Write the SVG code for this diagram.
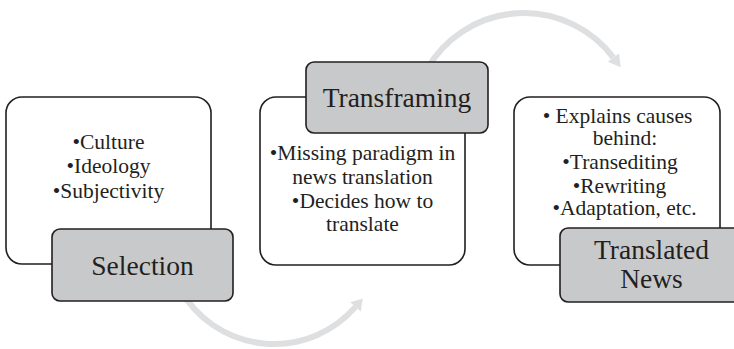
<svg xmlns="http://www.w3.org/2000/svg" width="734" height="349" viewBox="0 0 734 349">
  <style>
    .panel { fill: #ffffff; stroke: #231f20; stroke-width: 1.6; }
    .tab { fill: #c8c9cb; stroke: #231f20; stroke-width: 1.6; }
    text { font-family: 'Liberation Serif', 'DejaVu Serif', serif; fill: #231f20; text-anchor: middle; }
    .body { font-size: 21.5px; }
    .head { font-size: 27.5px; }
    .arc { fill: none; stroke: #dedfe1; stroke-width: 6; }
    .head-tip { fill: #dedfe1; }
  </style>

  <!-- curved flow arrows -->
  <g id="connectors">
    <path class="arc" d="M427,69 A112,112 0 0 1 613.4,57.6"/>
    <polygon class="head-tip" points="620.7,67.2 619.0,53.4 607.8,61.8"/>
    <path class="arc" d="M180.5,290 A108,108 0 0 0 355.5,306.9"/>
    <polygon class="head-tip" points="362.7,298.6 360.8,311.5 350.2,302.3"/>
  </g>

  <!-- Selection -->
  <g id="selection">
    <rect class="panel" x="6" y="97" width="205" height="167" rx="16"/>
    <text class="body" x="108.5" y="149">•Culture</text>
    <text class="body" x="108.5" y="173">•Ideology</text>
    <text class="body" x="108.5" y="198">•Subjectivity</text>
    <rect class="tab" x="52" y="229" width="181" height="72" rx="8"/>
    <text class="head" x="142.5" y="275">Selection</text>
  </g>

  <!-- Transframing -->
  <g id="transframing">
    <rect class="panel" x="260" y="97" width="205" height="168" rx="16"/>
    <text class="body" x="362.5" y="160">•Missing paradigm in</text>
    <text class="body" x="362.5" y="184">news translation</text>
    <text class="body" x="362.5" y="208">•Decides how to</text>
    <text class="body" x="362.5" y="231">translate</text>
    <rect class="tab" x="306" y="62" width="182" height="71" rx="8"/>
    <text class="head" x="397" y="106.5">Transframing</text>
  </g>

  <!-- Translated News -->
  <g id="translated-news">
    <rect class="panel" x="514" y="97" width="206" height="168" rx="16"/>
    <text class="body" x="617.5" y="123">• Explains causes</text>
    <text class="body" x="625" y="145">behind:</text>
    <text class="body" x="620" y="169">•Transediting</text>
    <text class="body" x="619.5" y="193">•Rewriting</text>
    <text class="body" x="624.5" y="215">•Adaptation, etc.</text>
    <rect class="tab" x="560" y="228" width="181" height="74" rx="8"/>
    <text class="head" x="651.5" y="258.5">Translated</text>
    <text class="head" x="651.5" y="288">News</text>
  </g>
</svg>
